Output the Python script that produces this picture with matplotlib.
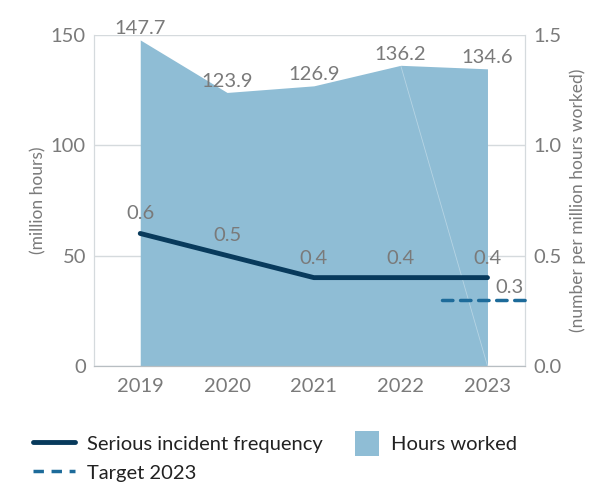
import matplotlib
matplotlib.use("Agg")
import matplotlib.pyplot as plt
from matplotlib.patches import Patch, Rectangle
from matplotlib.lines import Line2D
from matplotlib.legend_handler import HandlerPatch

plt.rcParams['font.family'] = ['Lato', 'DejaVu Sans']

years = ['2019', '2020', '2021', '2022', '2023']
hours_worked = [147.7, 123.9, 126.9, 136.2, 134.6]
incident_freq = [0.6, 0.5, 0.4, 0.4, 0.4]
target_2023 = 0.3

AREA = '#8fbdd5'
NAVY = '#083a5c'
TARGET = '#1d6b9a'
GREY = '#7a7a7a'
GRID = '#d5dadd'


class SquareHandler(HandlerPatch):
    # square swatch, right-aligned in the handle box
    def create_artists(self, legend, orig_handle, xdescent, ydescent,
                       width, height, fontsize, trans):
        side = height * 1.35
        p = Rectangle((-xdescent + width - side, -ydescent + (height - side) / 2),
                      side, side, facecolor=orig_handle.get_facecolor(), lw=0,
                      transform=trans)
        return [p]


fig = plt.figure(figsize=(5.89, 4.84), dpi=100)
ax = fig.add_axes([0.160, 0.244, 0.731, 0.684])
ax2 = ax.twinx()

x = list(range(len(years)))
ax.fill_between(x, hours_worked, 0, color=AREA, lw=0, zorder=2)
# faint seam line in the area
ax.plot([x[3], x[4]], [hours_worked[3], 0], color='white', lw=0.6, alpha=0.35, zorder=3)

ax.set_xlim(-0.53, 4.43)
ax.set_ylim(0, 150)
ax.set_yticks([0, 50, 100, 150])
ax.set_xticks(x)
ax.set_xticklabels(years)
ax.grid(axis='y', color=GRID, lw=1, zorder=1)
ax.set_axisbelow(True)

ax2.set_ylim(0, 1.5)
ax2.set_yticks([0, 0.5, 1.0, 1.5])
ax2.set_yticklabels(['0.0', '0.5', '1.0', '1.5'])

for a in (ax, ax2):
    a.tick_params(length=0, labelsize=14.5, labelcolor=GREY, pad=6)
    a.spines['top'].set_visible(False)
    a.spines['left'].set_color(GRID)
    a.spines['right'].set_color(GRID)
    a.spines['bottom'].set_color('#b8bec2')
ax.tick_params(axis='x', pad=9)

ax.set_ylabel('(million hours)', color=GREY, fontsize=12.5, labelpad=3)
ax2.set_ylabel('(number per million hours worked)', color=GREY, fontsize=12.5, labelpad=6)

ax2.plot(x, incident_freq, color=NAVY, lw=3.5, solid_capstyle='round', zorder=5)
ax2.plot([3.48, 4.43], [target_2023, target_2023], color=TARGET, lw=2.5,
         dashes=(3, 2.2), dash_capstyle='round', clip_on=False, zorder=5)

for xi, v in zip(x, hours_worked):
    ax.annotate(f'{v:.1f}', (xi, v), xytext=(0, 2), textcoords='offset points',
                ha='center', va='bottom', fontsize=14.5, color=GREY)
for xi, v in zip(x, incident_freq):
    ax2.annotate(f'{v:.1f}', (xi, v), xytext=(0, 8), textcoords='offset points',
                 ha='center', va='bottom', fontsize=14.5, color=GREY)
ax2.annotate(f'{target_2023:.1f}', (4.25, target_2023), xytext=(0, 3),
             textcoords='offset points', ha='center', va='bottom',
             fontsize=14.5, color=GREY)

handles = [Line2D([], [], color=NAVY, lw=3.5, solid_capstyle='round'),
           Line2D([], [], color=TARGET, lw=2.5, dashes=(3, 2.2)),
           Patch(color=AREA)]
labels = ['Serious incident frequency', 'Target 2023', 'Hours worked']
fig.legend(handles, labels, ncol=2, loc='upper left', bbox_to_anchor=(0.025, 0.14),
           frameon=False, fontsize=14.5, labelcolor='#222222', handlelength=2.1,
           handleheight=1.0, columnspacing=0.7, labelspacing=0.5, handletextpad=0.6,
           handler_map={Patch: SquareHandler()})

fig.savefig('out.png', dpi=100)
